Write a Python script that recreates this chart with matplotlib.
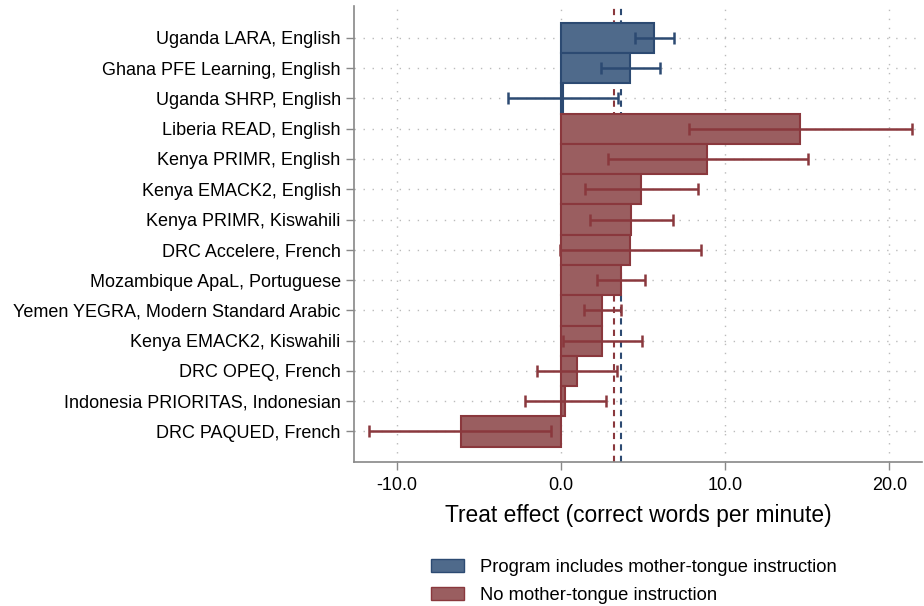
import matplotlib
matplotlib.use('Agg')
import matplotlib.pyplot as plt
from matplotlib.patches import Patch

programs = ['Uganda LARA, English', 'Ghana PFE Learning, English', 'Uganda SHRP, English',
            'Liberia READ, English', 'Kenya PRIMR, English', 'Kenya EMACK2, English',
            'Kenya PRIMR, Kiswahili', 'DRC Accelere, French', 'Mozambique ApaL, Portuguese',
            'Yemen YEGRA, Modern Standard Arabic', 'Kenya EMACK2, Kiswahili', 'DRC OPEQ, French',
            'Indonesia PRIORITAS, Indonesian', 'DRC PAQUED, French']
effect = [5.64, 4.23, 0.1, 14.57, 8.9, 4.86, 4.25, 4.23, 3.64, 2.52, 2.5, 0.96, 0.24, -6.12]
ci_low = [4.5, 2.44, -3.23, 7.8, 2.85, 1.45, 1.77, -0.05, 2.21, 1.42, 0.1, -1.45, -2.2, -11.7]
ci_high = [6.87, 6.05, 3.5, 21.4, 15.06, 8.35, 6.8, 8.54, 5.12, 3.66, 4.92, 3.4, 2.72, -0.59]
mother_tongue = [True, True, True, False, False, False, False, False, False, False, False, False, False, False]
mean_mt = 3.63
mean_no_mt = 3.25

plt.rcParams['font.family'] = ['Liberation Sans', 'DejaVu Sans']

blue_fill, blue_edge = '#4f6a8b', '#2c4a72'
red_fill, red_edge = '#9a5e60', '#8a383d'

fig = plt.figure(figsize=(9.24, 6.06), dpi=100)
ax = fig.add_axes([0.383, 0.238, 0.615, 0.752])

ypos = list(range(len(programs)))
fills = [blue_fill if m else red_fill for m in mother_tongue]
edges = [blue_edge if m else red_edge for m in mother_tongue]

# group means, drawn behind the bars
ax.axvline(mean_no_mt, color=red_edge, ls=(0, (3, 2.5)), lw=1.5, zorder=1)
ax.axvline(mean_mt, color=blue_edge, ls=(0, (3, 2.5)), lw=1.5, zorder=1)

ax.barh(ypos, effect, height=1.0, color=fills, edgecolor=edges, linewidth=1.5, zorder=2)
for i in ypos:
    ax.errorbar(effect[i], i, xerr=[[effect[i] - ci_low[i]], [ci_high[i] - effect[i]]],
                fmt='none', ecolor=edges[i], elinewidth=1.8, capsize=4, capthick=1.8, zorder=3)

ax.set_yticks(ypos)
ax.set_yticklabels(programs, fontsize=13)
ax.set_ylim(len(programs), -1.05)
ax.set_xlim(-12.62, 22.0)
ax.set_xticks([-10, 0, 10, 20])
ax.set_xticklabels(['-10.0', '0.0', '10.0', '20.0'], fontsize=13)
ax.set_xlabel('Treat effect (correct words per minute)', fontsize=16.4, labelpad=7)

ax.grid(True, ls=(0, (1, 5.5)), color='#bbbbbb', lw=1, zorder=0)
ax.set_axisbelow(True)
for s in ['top', 'right']:
    ax.spines[s].set_visible(False)
for s in ['left', 'bottom']:
    ax.spines[s].set_color('#888888')
    ax.spines[s].set_linewidth(1.2)
ax.tick_params(axis='both', colors='#888888', labelcolor='black', length=6, width=1)
ax.tick_params(axis='x', pad=5)

handles = [Patch(facecolor=blue_fill, edgecolor=blue_edge, lw=1),
           Patch(facecolor=red_fill, edgecolor=red_edge, lw=1)]
fig.legend(handles, ['Program includes mother-tongue instruction', 'No mother-tongue instruction'],
           loc='upper left', bbox_to_anchor=(0.4665, 0.078), bbox_transform=fig.transFigure,
           frameon=False, fontsize=13.2, handlelength=1.8, handleheight=0.7,
           handletextpad=0.85, labelspacing=0.62, borderaxespad=0, borderpad=0)

fig.savefig('out.png', dpi=100)
